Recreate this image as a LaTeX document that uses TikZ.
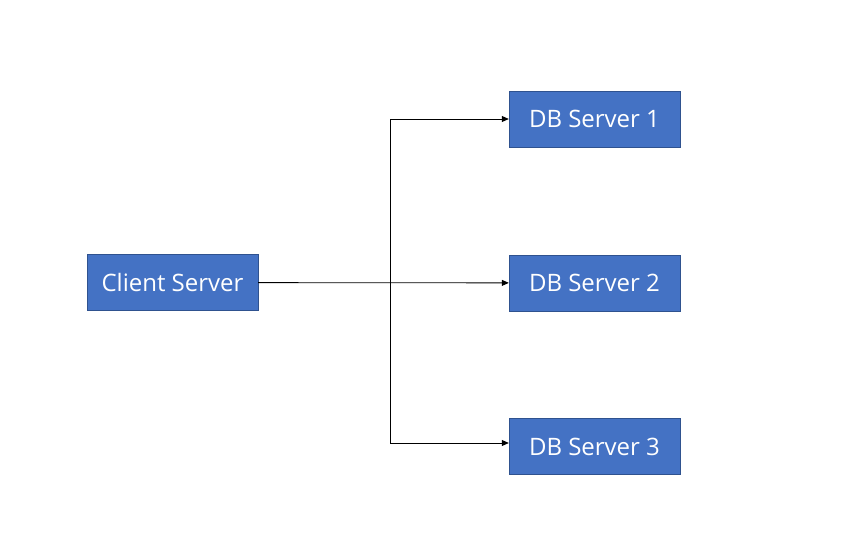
\documentclass[tikz,border=0pt]{standalone}
\usepackage{fontspec}
\setmainfont{Open Sans}
\usepackage{xcolor}
\usepackage{tikz}
\usetikzlibrary{positioning, calc, arrows.meta}
\definecolor{boxblue}{RGB}{68,114,196}
\definecolor{boxedge}{RGB}{47,82,143}

\tikzset{server/.style={draw=boxedge, fill=boxblue, text=white, minimum width=171pt, minimum height=56pt, inner sep=0pt, font=\fontsize{24}{28}\selectfont},
	link/.style={black, line width=0.8pt, -{Triangle[length=7pt, width=6pt]}}}

\begin{document}
\begin{tikzpicture}[x=1pt, y=-1pt]
	\useasboundingbox (0,0) rectangle (846,559);
	\pgfmathsetmacro{\dbx}{594.5}
	\node[server] (client) at (172.5,282.5) {Client Server};
	\node[server] (db1) at (\dbx,119) {DB Server 1};
	\node[server] (db2) at (\dbx,283) {DB Server 2};
	\node[server] (db3) at (\dbx,446.5) {DB Server 3};
	
	\coordinate (split) at (390,283);
	\draw[link] (client) -- (db2);
	\draw[link] (split) |- (db1);
	\draw[link] (split) |- ([yshift=3.5pt]db3.west);
\end{tikzpicture}
\end{document}
